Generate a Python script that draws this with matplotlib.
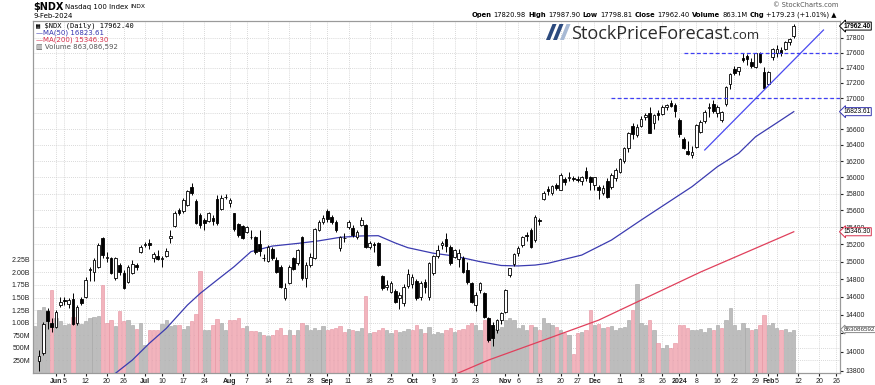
import matplotlib
matplotlib.use("Agg")
import matplotlib.pyplot as plt
from matplotlib.transforms import blended_transform_factory
from matplotlib.ticker import FixedLocator, NullLocator, FixedFormatter
from matplotlib.patches import Polygon
import pandas as pd

# ---------------- data ----------------
first_day = "2023-05-24"
last_day = "2024-02-09"
axis_end = "2024-02-29"
holidays = ["2023-05-29", "2023-06-19", "2023-07-04", "2023-09-04", "2023-11-23",
            "2023-12-25", "2024-01-01", "2024-01-15", "2024-02-19"]

opens = [13597, 13905, 13990, 14440, 14307, 14271, 14510, 14565, 14520, 14572,
         14307, 14572, 14602, 14900, 14884, 14941, 15268, 15040, 15037, 14808,
         14960, 14865, 14770, 14873, 14960, 15113, 15195, 15210, 15037, 15064,
         15030, 15064, 15270, 15414, 15603, 15592, 15663, 15885, 15715, 15544,
         15484, 15476, 15504, 15731, 15611, 15763, 15683, 15564, 15437, 15414,
         15347, 15285, 15280, 15202, 15045, 15010, 15150, 15018, 14941, 14583,
         14752, 15037, 14980, 15280, 14808, 14960, 15037, 15366, 15464, 15591,
         15524, 15464, 15152, 15270, 15398, 15386, 15280, 15425, 15425, 15172,
         15200, 15218, 14835, 14714, 14658, 14670, 14583, 14528, 14722, 14740,
         14780, 14600, 14770, 14602, 14865, 15064, 15195, 15257, 15172, 15056,
         15030, 15037, 14903, 14752, 14510, 14677, 14639, 14362, 14290, 14234,
         14344, 14436, 14846, 14971, 15100, 15191, 15308, 15366, 15249, 15484,
         15735, 15860, 15810, 15910, 15850, 15980, 15990, 15990, 15970, 15950,
         16080, 16000, 15900, 15880, 15810, 15960, 15880, 15990, 16060, 16200,
         16360, 16640, 16520, 16640, 16750, 16810, 16680, 16800, 16790, 16880,
         16930, 16910, 16720, 16470, 16330, 16280, 16370, 16560, 16700, 16870,
         16920, 16800, 16720, 16920, 17180, 17380, 17350, 17530, 17560, 17480,
         17410, 17600, 17340, 17180, 17540, 17600, 17640, 17650, 17750, 17820.98]
highs = [13640, 14018, 14320, 14480, 14362, 14454, 14602, 14602, 14583, 14639,
         14510, 14602, 14827, 14941, 15037, 15210, 15280, 15110, 15050, 15050,
         14980, 14903, 14960, 15018, 14979, 15190, 15230, 15260, 15110, 15133,
         15060, 15152, 15366, 15590, 15623, 15743, 15850, 15925, 15731, 15571,
         15504, 15583, 15545, 15783, 15783, 15795, 15743, 15571, 15453, 15425,
         15414, 15366, 15296, 15366, 15090, 15190, 15170, 15050, 14960, 14752,
         14960, 15056, 15140, 15296, 14990, 15094, 15390, 15490, 15540, 15611,
         15545, 15480, 15300, 15330, 15490, 15420, 15370, 15524, 15440, 15240,
         15230, 15230, 14850, 14790, 14780, 14690, 14650, 14740, 14920, 14860,
         14800, 14780, 14800, 14990, 15075, 15190, 15240, 15327, 15190, 15150,
         15150, 15060, 14990, 14770, 14660, 14770, 14660, 14380, 14320, 14360,
         14430, 14690, 14930, 15100, 15180, 15300, 15340, 15390, 15540, 15510,
         15830, 15890, 15900, 15930, 16050, 16000, 16060, 16010, 16010, 16020,
         16120, 16020, 16000, 15900, 15910, 15990, 16050, 16110, 16240, 16380,
         16560, 16680, 16660, 16770, 16800, 16880, 16790, 16840, 16910, 16920,
         16970, 16940, 16740, 16500, 16450, 16390, 16660, 16720, 16840, 16930,
         16970, 16910, 16830, 17160, 17330, 17420, 17410, 17600, 17580, 17530,
         17600, 17610, 17410, 17350, 17660, 17700, 17680, 17760, 17800, 17987.90]
lows = [13520, 13790, 13970, 14250, 14216, 14253, 14491, 14510, 14472, 14289,
        14289, 14510, 14583, 14782, 14782, 14922, 15040, 14990, 14857, 14790,
        14850, 14685, 14752, 14860, 14903, 15100, 15170, 15150, 15000, 15018,
        14941, 15050, 15210, 15406, 15545, 15571, 15650, 15790, 15437, 15386,
        15366, 15464, 15425, 15425, 15603, 15731, 15640, 15360, 15280, 15257,
        15327, 15257, 15086, 15064, 15010, 14990, 15020, 14865, 14700, 14560,
        14740, 14900, 14960, 14790, 14714, 14940, 15025, 15350, 15440, 15460,
        15440, 15340, 15120, 15230, 15380, 15290, 15260, 15410, 15160, 15150,
        15110, 14955, 14680, 14680, 14640, 14530, 14470, 14500, 14700, 14700,
        14560, 14560, 14640, 14565, 14850, 15040, 15150, 15110, 14960, 15040,
        14940, 14870, 14750, 14530, 14440, 14640, 14370, 14110, 14060, 14200,
        14300, 14420, 14820, 14950, 15060, 15170, 15240, 15160, 15230, 15420,
        15720, 15790, 15780, 15840, 15840, 15910, 15960, 15960, 15940, 15900,
        15960, 15850, 15840, 15740, 15790, 15750, 15860, 15960, 16050, 16180,
        16310, 16480, 16500, 16630, 16720, 16550, 16600, 16720, 16780, 16840,
        16880, 16760, 16500, 16350, 16280, 16240, 16360, 16550, 16680, 16760,
        16800, 16750, 16690, 16900, 17120, 17300, 17300, 17480, 17440, 17400,
        17400, 17460, 17130, 17170, 17500, 17540, 17560, 17640, 17710, 17798.81]
closes = [13603, 13950, 14300, 14330, 14263, 14435, 14547, 14552, 14565, 14300,
          14491, 14528, 14790, 14915, 15018, 15191, 15080, 15050, 14865, 15037,
          14880, 14695, 14941, 14971, 14933, 15172, 15205, 15190, 15083, 15025,
          15045, 15122, 15296, 15571, 15564, 15723, 15836, 15812, 15453, 15425,
          15453, 15564, 15476, 15453, 15743, 15755, 15723, 15374, 15308, 15268,
          15406, 15280, 15113, 15120, 15037, 15172, 15037, 14884, 14714, 14695,
          14941, 14910, 15130, 14808, 14960, 15056, 15374, 15464, 15504, 15495,
          15464, 15366, 15288, 15268, 15464, 15308, 15347, 15484, 15172, 15218,
          15191, 14960, 14695, 14730, 14760, 14547, 14620, 14714, 14853, 14826,
          14583, 14760, 14714, 14979, 15064, 15133, 15215, 15180, 14979, 15133,
          15100, 14884, 14770, 14547, 14620, 14752, 14380, 14126, 14150, 14344,
          14417, 14677, 14922, 15086, 15152, 15288, 15295, 15172, 15524, 15470,
          15812, 15827, 15888, 15864, 16027, 15943, 15999, 15983, 15967, 16001,
          15987, 15947, 15998, 15840, 15870, 15760, 16024, 16085, 16228, 16368,
          16551, 16533, 16623, 16727, 16780, 16553, 16778, 16777, 16878, 16906,
          16898, 16826, 16543, 16368, 16283, 16306, 16650, 16696, 16818, 16886,
          16832, 16883, 16815, 17148, 17314, 17329, 17405, 17499, 17516, 17421,
          17596, 17476, 17137, 17344, 17643, 17643, 17600, 17745, 17783, 17962.40]
volume_b = [0.94, 1.26, 1.31, 1.26, 1.66, 1.09, 1.03, 0.96, 0.98, 1.12,
            0.99, 0.98, 1.03, 1.09, 1.11, 1.14, 1.74, 1.00, 1.06, 0.93,
            1.23, 1.03, 1.05, 0.96, 0.88, 1.00, 0.55, 0.85, 0.85, 0.85,
            0.98, 1.05, 0.94, 0.96, 0.95, 0.88, 0.93, 1.04, 1.18, 2.02,
            0.86, 0.85, 0.96, 1.07, 1.00, 0.85, 1.05, 1.06, 1.10, 0.89,
            0.93, 0.84, 0.84, 0.81, 0.76, 0.74, 0.76, 0.86, 0.89, 0.76,
            0.86, 0.76, 0.86, 1.00, 0.95, 0.86, 0.90, 0.85, 0.93, 0.85,
            0.88, 0.90, 0.93, 0.82, 0.88, 0.86, 0.84, 0.90, 1.54, 0.80,
            0.82, 0.85, 0.90, 0.85, 0.80, 0.85, 0.82, 0.84, 0.88, 0.85,
            0.95, 0.88, 0.80, 0.92, 0.78, 0.82, 0.80, 0.86, 0.90, 0.82,
            0.85, 0.87, 0.95, 1.00, 0.95, 0.85, 1.05, 1.10, 0.95, 0.88,
            0.92, 1.05, 1.10, 1.05, 0.90, 0.95, 0.85, 0.95, 0.92, 0.85,
            1.10, 1.00, 0.95, 0.92, 0.85, 0.80, 0.75, 0.38, 0.80, 0.82,
            0.85, 1.25, 0.95, 0.98, 0.90, 0.92, 0.93, 0.85, 0.90, 0.92,
            1.05, 1.25, 1.76, 1.00, 0.95, 1.05, 0.85, 0.60, 0.50, 0.55,
            0.50, 0.60, 0.95, 0.95, 0.90, 0.85, 0.85, 0.88, 0.82, 0.90,
            0.85, 0.95, 0.90, 1.05, 1.30, 0.95, 0.85, 1.00, 0.90, 0.85,
            0.88, 0.95, 1.15, 0.95, 1.00, 0.90, 0.85, 0.88, 0.82, 0.863]

ma50_dates = ["2023-06-20", "2023-06-28", "2023-07-05", "2023-07-11", "2023-07-18",
              "2023-07-21", "2023-07-27", "2023-08-02", "2023-08-08", "2023-08-15",
              "2023-08-23", "2023-08-30", "2023-09-07", "2023-09-14", "2023-09-20",
              "2023-09-26", "2023-09-29", "2023-10-09", "2023-10-16", "2023-10-24",
              "2023-10-31", "2023-11-06", "2023-11-10", "2023-11-15", "2023-11-28",
              "2023-12-07", "2023-12-18", "2024-01-05", "2024-01-16", "2024-01-23",
              "2024-01-29", "2024-02-05", "2024-02-09"]
ma50_vals = [13700, 13911, 14090, 14252, 14509, 14639, 14790, 14941, 15115, 15179,
             15210, 15240, 15281, 15297, 15300, 15215, 15160, 15096, 15064, 14999,
             14955, 14950, 14960, 14980, 15075, 15249, 15484, 15885, 16130, 16296,
             16504, 16680, 16823.61]
ma200_dates = ["2023-10-11", "2023-10-26", "2023-11-13", "2023-12-04", "2024-01-09",
               "2024-02-09"]
ma200_vals = [13700, 13911, 14108, 14343, 14880, 15346.30]

trend_dates = ["2024-01-10", "2024-02-21"]
trend_vals = [16337, 17908]
levels = [17600, 17000]
level_starts = ["2024-01-03", "2023-12-07"]

tick_dates = ["2023-06-01", "2023-06-05", "2023-06-12", "2023-06-20", "2023-06-26",
              "2023-07-03", "2023-07-10", "2023-07-17", "2023-07-24", "2023-08-01",
              "2023-08-07", "2023-08-14", "2023-08-21", "2023-08-28", "2023-09-01",
              "2023-09-11", "2023-09-18", "2023-09-25", "2023-10-02", "2023-10-09",
              "2023-10-16", "2023-10-23", "2023-11-01", "2023-11-06", "2023-11-13",
              "2023-11-20", "2023-11-27", "2023-12-01", "2023-12-11", "2023-12-18",
              "2023-12-26", "2024-01-02", "2024-01-08", "2024-01-16", "2024-01-22",
              "2024-01-29", "2024-02-01", "2024-02-05", "2024-02-12", "2024-02-20",
              "2024-02-26"]
tick_labels = ["Jun", "5", "12", "20", "26", "Jul", "10", "17", "24", "Aug",
               "7", "14", "21", "28", "Sep", "11", "18", "25", "Oct", "9",
               "16", "23", "Nov", "6", "13", "20", "27", "Dec", "11", "18",
               "26", "2024", "8", "16", "22", "29", "Feb", "5", "12", "20", "26"]
bold_labels = {"Jun", "Jul", "Aug", "Sep", "Oct", "Nov", "Dec", "2024", "Feb"}

price_ticks = list(range(13800, 17801, 200))
hidden_price_labels = {16800, 14200}          # covered by the value boxes
volume_ticks = [0.25, 0.50, 0.75, 1.00, 1.25, 1.50, 1.75, 2.00, 2.25]
volume_tick_labels = ["250M", "500M", "750M", "1.00B", "1.25B", "1.50B", "1.75B", "2.00B", "2.25B"]

# ---------------- calendar ----------------
days = pd.bdate_range(first_day, axis_end)
days = days[~days.isin(pd.to_datetime(holidays))]
pos = {d.strftime("%Y-%m-%d"): i for i, d in enumerate(days)}
n = len(opens)
xs = list(range(n))


def X(d):
    return pos[d]


# ---------------- figure ----------------
W, H = 875, 385
fig = plt.figure(figsize=(W / 100, H / 100), dpi=100)
L, R, T, B = 33, 840, 21, 373
axv = fig.add_axes([L / W, 1 - B / H, (R - L) / W, (B - T) / H])
axp = axv.twinx()
axp.patch.set_visible(False)

vol_top = (B - T) / 50.3
axv.set_ylim(0, vol_top)
axp.set_yscale("log")
axp.set_ylim(13774, 18032)
axv.set_xlim(-0.42, 189.9)

grid_kw = dict(color="#cccccc", lw=0.6, ls=(0, (1, 1.5)), zorder=0)
tr_p = blended_transform_factory(axv.transAxes, axp.transData)
for p in price_ticks:
    if p >= 15200:
        axv.plot([0, 1], [p, p], transform=tr_p, **grid_kw)
for v in volume_ticks:
    axv.axhline(v, **grid_kw)
for d in tick_dates:
    axv.axvline(X(d), **grid_kw)

# volume
vcol, vedge = [], []
for i in range(n):
    down = i > 0 and closes[i] < closes[i - 1]
    vcol.append("#f2b4bd" if down else "#bdbdbd")
    vedge.append("#e6919f" if down else "#a3a3a3")
axv.bar(xs, volume_b, width=0.78, color=vcol, edgecolor=vedge, lw=0.4, zorder=1)

# moving averages
axp.plot([X(d) for d in ma50_dates], ma50_vals, color="#3b3bb0", lw=0.9, zorder=2)
axp.plot([X(d) for d in ma200_dates], ma200_vals, color="#e0405c", lw=0.9, zorder=2)

# candles
axp.vlines(xs, lows, highs, color="black", lw=0.7, zorder=3)
bot = [min(o, c) for o, c in zip(opens, closes)]
hgt = [max(abs(c - o), 6) for o, c in zip(opens, closes)]
fc = ["white" if c >= o else "black" for o, c in zip(opens, closes)]
axp.bar(xs, hgt, bottom=bot, width=0.62, color=fc, edgecolor="black", lw=0.6, zorder=4)

# annotations
axp.plot([X(d) for d in trend_dates], trend_vals, color="#4a4af0", lw=0.9, zorder=5)
for lv, st in zip(levels, level_starts):
    axp.plot([X(st), 200], [lv, lv], color="#3f3ff5", lw=0.9, ls=(0, (3, 2)), zorder=5)

# axes styling
for ax in (axv, axp):
    for s in ax.spines.values():
        s.set_color("#9a9a9a")
        s.set_linewidth(0.8)
axp.yaxis.set_major_locator(FixedLocator(price_ticks))
axp.yaxis.set_minor_locator(NullLocator())
axp.yaxis.set_major_formatter(FixedFormatter(
    ["" if p in hidden_price_labels else str(p) for p in price_ticks]))
axp.tick_params(axis="y", which="major", labelsize=5, length=2, pad=2, colors="#222222")
axv.set_yticks(volume_ticks)
axv.set_yticklabels(volume_tick_labels)
axv.tick_params(axis="y", labelsize=5, length=0, pad=2, colors="#222222")
axv.set_xticks([X(d) for d in tick_dates])
axv.set_xticklabels(tick_labels)
axv.tick_params(axis="x", labelsize=5, length=2, pad=1.5, colors="#222222")
for t in axv.get_xticklabels():
    if t.get_text() in bold_labels:
        t.set_fontweight("bold")
for t in axp.get_yticklabels() + axv.get_yticklabels() + axv.get_xticklabels():
    t.set_fontfamily("Liberation Sans")
axv.set_xlim(-0.42, 189.9)


def fx(px):
    return px / W


def fy(py):
    return 1 - py / H


renderer = fig.canvas.get_renderer()


def pieces(items, x_px, y_px, align="left", gap=2.5):
    texts, widths = [], []
    for s, kw in items:
        t = fig.text(0, fy(y_px), s, va="center", **kw)
        widths.append(t.get_window_extent(renderer).width)
        texts.append(t)
    total = sum(widths) + gap * (len(items) - 1)
    x = x_px - total if align == "right" else x_px
    for t, w in zip(texts, widths):
        t.set_x(fx(x))
        x += w + gap


# header left
pieces([("$NDX", dict(size=7, weight="bold")),
        ("Nasdaq 100 Index", dict(size=5)),
        ("INDX", dict(size=4.3))], 33, 7, gap=2)
fig.text(fx(33), fy(16), "9-Feb-2024", size=5, va="center")
# header right
fig.text(fx(838), fy(5), "\u00a9 StockCharts.com", size=4.8, color="#555555", ha="right", va="center")
b = dict(size=4.85, weight="bold")
nm = dict(size=4.85)
pieces([("Open", b), ("17820.98", nm), ("High", b), ("17987.90", nm), ("Low", b),
        ("17798.81", nm), ("Close", b), ("17962.40", nm), ("Volume", b), ("863.1M", nm),
        ("Chg", b), ("+179.23 (+1.01%) \u25b2", nm)], 837, 15, align="right", gap=2.3)

# legend inside plot
fig.text(fx(36), fy(26), "\u25a6 $NDX (Daily) 17962.40", family="DejaVu Sans Mono", size=5, va="center")
fig.text(fx(36), fy(33), "\u2014MA(50) 16823.61", color="#3535b0", size=5, va="center")
fig.text(fx(36), fy(40), "\u2014MA(200) 15346.30", color="#d8304c", size=5, va="center")
fig.text(fx(36), fy(47), "\u25a5 Volume 863,086,592", color="#555555", size=5, va="center")

# watermark logo
for x0, col in [(546, "#2c4a7e"), (553, "#2c4a7e"), (560, "#a7b9d4")]:
    pts = [(x0, 40), (x0 + 4, 40), (x0 + 10.5, 24), (x0 + 6.5, 24)]
    fig.patches.append(Polygon([(fx(a), fy(c)) for a, c in pts], closed=True,
                               transform=fig.transFigure, fc=col, ec="none", zorder=6))
wm = fig.text(fx(571), fy(39), "StockPriceForecast", size=13, family="Open Sans",
              color="#2a2a2a", va="baseline")
w0 = wm.get_window_extent(renderer).width
wm.set_fontsize(13 * 158 / w0)
fig.text(fx(729), fy(39), ".com", size=9.5, family="Open Sans", color="#2a2a2a", va="baseline")

# right-side value boxes
tr_r = blended_transform_factory(axp.transAxes, axp.transData)
for val, txt, ec, wt in [(17962.40, "17962.40", "black", "bold"),
                         (16823.61, "16823.61", "#3535b0", "normal"),
                         (15346.30, "15346.30", "#d8304c", "normal")]:
    axp.text(1.0045, val, txt, transform=tr_r, size=4.7, weight=wt, va="center", ha="left",
             family="Liberation Sans", clip_on=False, zorder=10,
             bbox=dict(boxstyle="larrow,pad=0.08", fc="white", ec=ec, lw=0.7))
tr_v = blended_transform_factory(axp.transAxes, axv.transData)
axp.text(1.0045, volume_b[-1], "863086592", transform=tr_v, size=4.5, va="center", ha="left",
         family="Liberation Sans", clip_on=False, zorder=10, color="#333333",
         bbox=dict(boxstyle="larrow,pad=0.08", fc="white", ec="#888888", lw=0.7))

fig.savefig("out.png", dpi=100)
